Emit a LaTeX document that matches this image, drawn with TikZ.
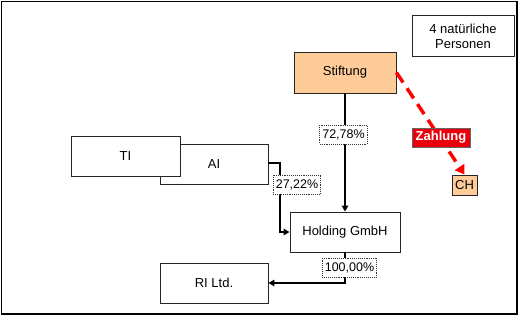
\documentclass[tikz,border=0pt]{standalone}
\usepackage{fontspec}
\setmainfont{Liberation Sans}
\usetikzlibrary{arrows.meta,positioning}
\definecolor{peach}{HTML}{FFCC99}
\definecolor{payred}{HTML}{FF0000}
\definecolor{zahlred}{HTML}{E8000C}
\tikzset{
  >={Triangle[length=6pt,width=6.5pt]},
  % Gesellschaften
  corp/.style={draw=black!85,line width=0.9pt,fill=white,inner sep=0pt,
               minimum width=108pt,minimum height=40pt,
               font=\fontsize{13}{15}\selectfont},
  found/.style={corp,fill=peach,minimum width=102pt,minimum height=41pt},
  % Anteile
  share/.style={->,draw=black,line width=2pt},
  sharethin/.style={->,draw=black,line width=1.5pt},
  pct/.style={draw=black!80,densely dotted,line width=0.9pt,fill=white,
              inner xsep=2.5pt,inner ysep=0pt,minimum height=19pt,
              font=\fontsize{12.5}{14}\selectfont},
  % Zahlung
  payline/.style={-{Triangle[length=9pt,width=11pt]},draw=payred,
                  line width=3.5pt,dash pattern=on 12pt off 7pt},
  paylbl/.style={draw=black!60,line width=0.6pt,fill=zahlred,text=white,
                 inner sep=0pt,minimum width=58pt,minimum height=19pt,
                 font=\fontsize{13}{14}\selectfont\bfseries},
}
\begin{document}
\begin{tikzpicture}[x=1pt,y=-1pt]
  \useasboundingbox (0,0) rectangle (519,317);
  \draw[line width=1.6pt] (1.5,1.5) rectangle (517,314);

  \node[corp,minimum width=102pt,minimum height=41pt,align=center] (persons)
     at (463,36) {4 natürliche\\Personen};
  \node[found] (stiftung) at (345,72.5) {Stiftung};
  \node[corp,minimum width=110pt] (holding) at (345,232) {Holding GmbH};
  \node[corp] (al) at (214,164) {AI};
  \node[corp,minimum width=109pt] (tl) at (125.5,156) {TI};
  \node[corp] (rl) at (214,283) {RI Ltd.};
  \node[found,minimum width=25pt,minimum height=20pt] (ch) at (464.5,185) {CH};

  \draw[sharethin] (stiftung.south) -- (holding.north);
  \draw[share] (al.east) ++(0,-1) -- ++(12,0) |- (holding.west);
  \draw[share] (holding.south) |- (rl.east);
  \draw[payline] (stiftung.east) -- (ch.north);

  \node[pct] (p1) at (343.5,134.5) {72,78\%};
  \node[pct] (p2) at (297,184.5) {27,22\%};
  \node[pct] (p3) at (349.5,267.5) {100,00\%};
  \node[paylbl] (zahlung) at (441,137.5) {Zahlung};
\end{tikzpicture}
\end{document}
